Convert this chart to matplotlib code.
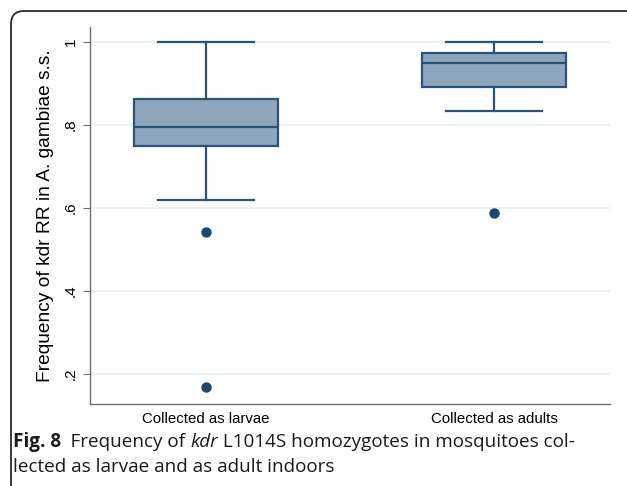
import matplotlib
matplotlib.use("Agg")
import matplotlib.pyplot as plt
from matplotlib.patches import FancyBboxPatch
from matplotlib.transforms import IdentityTransform

# box summary per group: whisker low, q1, median, q3, whisker high, outliers
groups = ["Collected as larvae", "Collected as adults"]
whislo = [0.62, 0.834]
q1 = [0.75, 0.892]
med = [0.796, 0.95]
q3 = [0.862, 0.974]
whishi = [1.0, 1.0]
fliers = [[0.543, 0.168], [0.589]]

yticks = [0.2, 0.4, 0.6, 0.8, 1.0]
ytick_labels = [".2", ".4", ".6", ".8", "1"]

navy = "#1a476f"
edge = "#2b5279"
face = "#8ea6bb"
axis_gray = "#6e6e6e"

fig = plt.figure(figsize=(6.27, 4.86), dpi=100)
ax = fig.add_axes([90 / 627, 82 / 486, 520 / 627, 377 / 486])

stats = []
for i in range(len(groups)):
    stats.append(dict(label=groups[i], whislo=whislo[i], q1=q1[i], med=med[i],
                      q3=q3[i], whishi=whishi[i], fliers=fliers[i]))

ax.bxp(stats, positions=[1, 2], widths=0.5, capwidths=0.333, patch_artist=True,
       boxprops=dict(facecolor=face, edgecolor=edge, linewidth=1.6),
       medianprops=dict(color=edge, linewidth=1.6),
       whiskerprops=dict(color=edge, linewidth=1.6),
       capprops=dict(color=edge, linewidth=1.6),
       flierprops=dict(marker="o", markerfacecolor=navy, markeredgecolor=navy,
                       markersize=6.5))

ax.set_xlim(0.597, 2.403)
ax.set_ylim(0.128, 1.036)
ax.set_yticks(yticks)
ax.set_yticklabels(ytick_labels, rotation=90, va="center",
                   fontfamily="Liberation Sans", fontsize=11)
ax.tick_params(axis="y", length=5, color=axis_gray, pad=4)
ax.tick_params(axis="x", length=0, pad=6)
for lab in ax.get_xticklabels():
    lab.set_fontfamily("Liberation Sans")
    lab.set_fontsize(10.8)
ax.grid(axis="y", color="#eaf2f3", linewidth=1.6)
ax.set_axisbelow(True)
for s in ["top", "right"]:
    ax.spines[s].set_visible(False)
for s in ["left", "bottom"]:
    ax.spines[s].set_color(axis_gray)
    ax.spines[s].set_linewidth(1.0)

ax.set_ylabel("Frequency of kdr RR in A. gambiae s.s.",
              fontfamily="Liberation Sans", fontsize=13.8, labelpad=7)

# figure frame: only the top and left edges show, rounded top-left corner
frame = FancyBboxPatch((11, -40), 700, 515, boxstyle="round,pad=0,rounding_size=13",
                       transform=IdentityTransform(), fill=False,
                       edgecolor="#2a2a2a", linewidth=1.3)
fig.patches.append(frame)

# caption with mixed bold / italic pieces
cap_font = "Open Sans"
cap_size = 13.6
renderer = fig.canvas.get_renderer()


def put_line(pieces, x, y):
    for text, weight, style in pieces:
        t = fig.text(x, y, text, fontfamily=cap_font, fontsize=cap_size,
                     fontweight=weight, fontstyle=style, color="#1a1a1a",
                     transform=IdentityTransform(), va="baseline")
        x = t.get_window_extent(renderer).x1


put_line([("Fig. 8", "bold", "normal"),
          ("\u2002Frequency of ", "normal", "normal"),
          ("kdr", "normal", "italic"),
          (" L1014S homozygotes in mosquitoes col-", "normal", "normal")],
         13, 486 - 447)
put_line([("lected as larvae and as adult indoors", "normal", "normal")],
         13, 486 - 472)

fig.savefig("out.png", dpi=100)
